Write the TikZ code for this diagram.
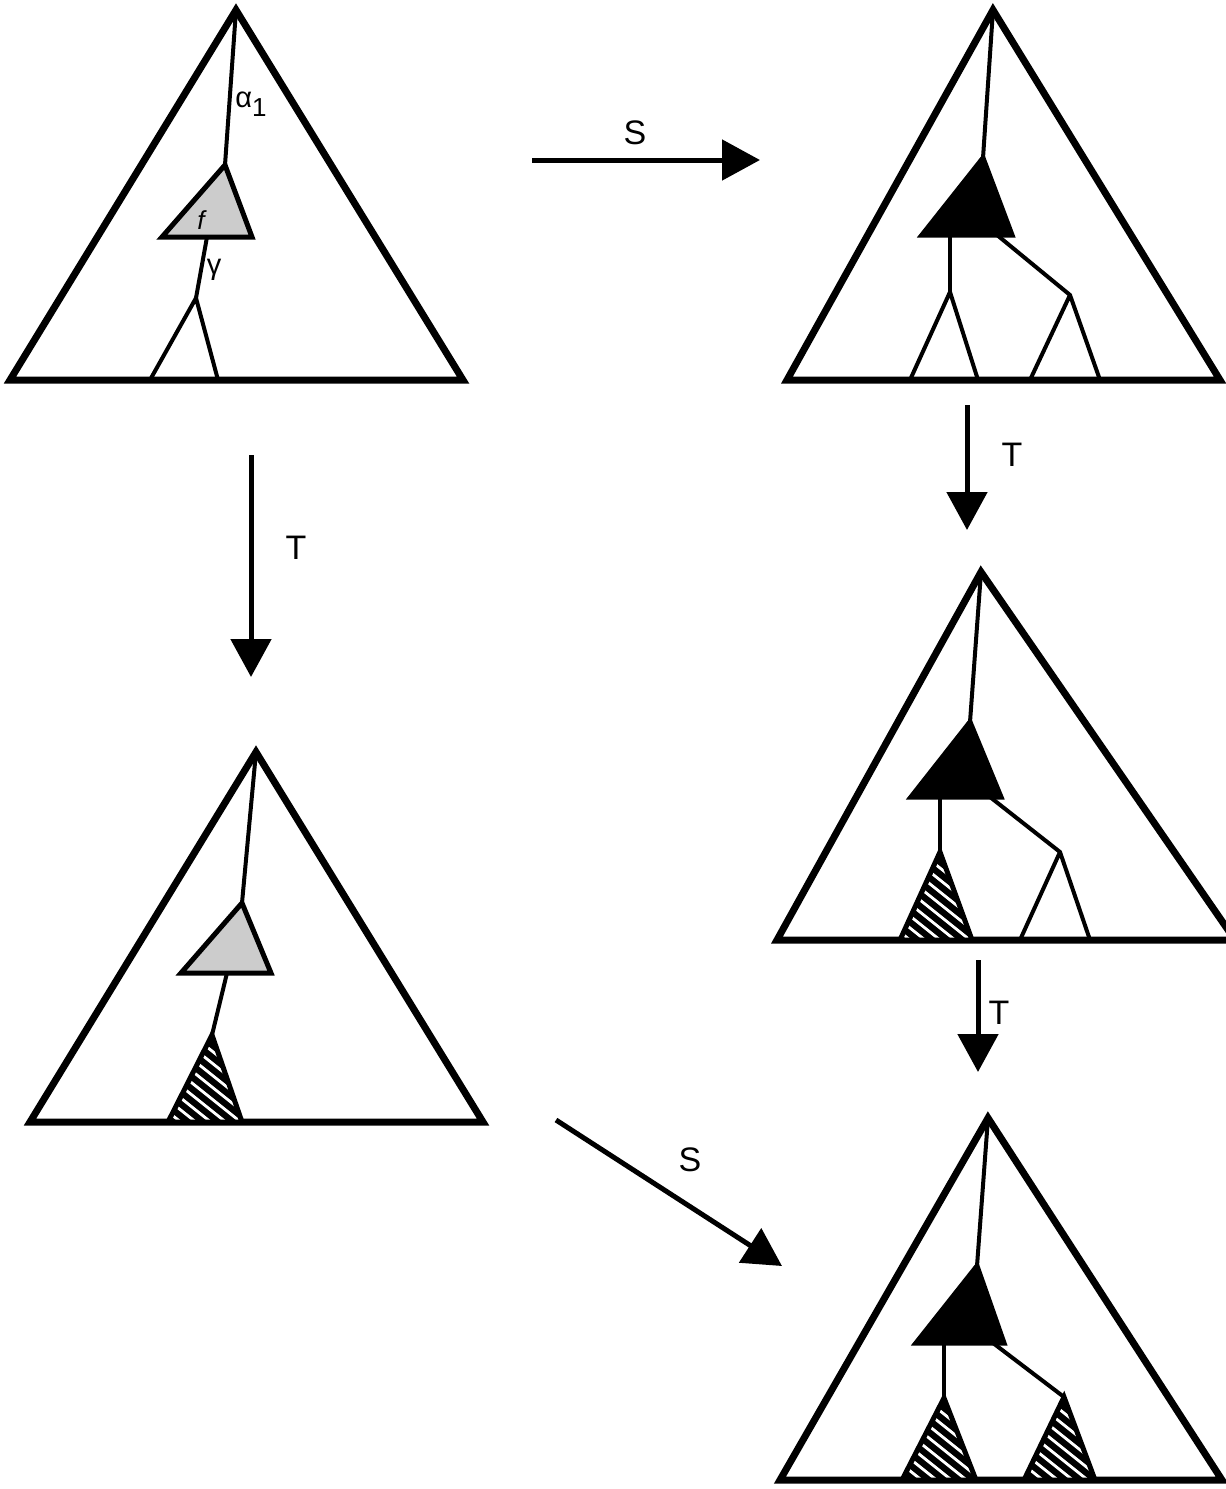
\documentclass[tikz,border=0pt]{standalone}
\usepackage{fontspec}
\setmainfont{Liberation Sans}
\usetikzlibrary{arrows.meta,calc}
\tikzset{
  outer/.style={line width=7pt, line join=miter},
  branch/.style={line width=4pt, line cap=round, line join=round},
  small/.style={line width=5pt, line join=miter},
  arr/.style={line width=5pt, -{Triangle[length=38pt,width=40pt]}},
  lbl/.style={font=\fontsize{34}{34}\selectfont, inner sep=0pt},
  glbl/.style={font=\fontsize{29}{29}\selectfont, inner sep=0pt}
}
\newcommand{\hatchtri}[3]{%
  \begin{scope}
    \clip #1 -- #2 -- #3 -- cycle;
    \fill[black] #1 -- #2 -- #3 -- cycle;
    \foreach \k in {-10,...,10}
      \draw[white,line width=2.8pt] ($#1+(\k*15,40)$) -- ++(-200,-160) ($#1+(\k*15,40)$) -- ++(200,160);
  \end{scope}
  \draw[small, fill=none] #1 -- #2 -- #3 -- cycle;
}
\begin{document}
\begin{tikzpicture}[x=1pt,y=-1pt]
\useasboundingbox (0,0) rectangle (1226,1489);
\fill[white] (0,0) rectangle (1226,1489);

% ---------- Triangle 1 (top left)
\draw[outer] (236,10) -- (10,380) -- (463,380) -- cycle;
\draw[branch] (236,10) -- (225,165);
\fill[gray!40] (225,165) -- (162,237) -- (252,237) -- cycle;
\draw[small] (225,165) -- (162,237) -- (252,237) -- cycle;
\draw[branch] (207,237) -- (196,298);
\draw[branch] (150,380) -- (196,298) -- (218,380);
\node[glbl] (a1) at (251,104) {α\raisebox{-9pt}{\fontsize{26}{26}\selectfont 1}};
\node[glbl] (g1) at (214,270) {γ};
\node[font=\fontsize{26}{26}\selectfont\itshape, inner sep=0pt] (f1) at (201,220) {f};

% ---------- Triangle 2 (top right)
\draw[outer] (993,10) -- (787,380) -- (1220,380) -- cycle;
\draw[branch] (993,10) -- (983,158);
\fill[black] (983,158) -- (922,235) -- (1012,235) -- cycle;
\draw[small] (983,158) -- (922,235) -- (1012,235) -- cycle;
\draw[branch] (950,235) -- (950,292);
\draw[branch] (910,380) -- (950,292) -- (978,380);
\draw[branch] (997,235) -- (1070,295);
\draw[branch] (1030,380) -- (1070,295) -- (1100,380);

% ---------- Triangle 3 (right middle)
\draw[outer] (981,572) -- (777,940) -- (1235,940) -- cycle;
\draw[branch] (981,572) -- (970,722);
\fill[black] (970,722) -- (911,797) -- (1001,797) -- cycle;
\draw[small] (970,722) -- (911,797) -- (1001,797) -- cycle;
\draw[branch] (940,797) -- (940,852);
\hatchtri{(940,852)}{(900,940)}{(972,940)}
\draw[branch] (990,797) -- (1060,852);
\draw[branch] (1020,940) -- (1060,852) -- (1090,940);

% ---------- Triangle 4 (bottom right)
\draw[outer] (988,1118) -- (780,1480) -- (1222,1480) -- cycle;
\draw[branch] (988,1118) -- (977,1266);
\fill[black] (977,1266) -- (916,1343) -- (1004,1343) -- cycle;
\draw[small] (977,1266) -- (916,1343) -- (1004,1343) -- cycle;
\draw[branch] (944,1343) -- (944,1398);
\hatchtri{(944,1398)}{(902,1480)}{(976,1480)}
\draw[branch] (993,1343) -- (1064,1397);
\hatchtri{(1064,1397)}{(1024,1480)}{(1095,1480)}

% ---------- Triangle 5 (bottom left)
\draw[outer] (256,752) -- (30,1122) -- (483,1122) -- cycle;
\draw[branch] (256,752) -- (242,903);
\fill[gray!40] (242,903) -- (181,973) -- (271,973) -- cycle;
\draw[small] (242,903) -- (181,973) -- (271,973) -- cycle;
\draw[branch] (227,973) -- (212,1035);
\hatchtri{(212,1035)}{(168,1122)}{(242,1122)}

% ---------- Arrows
\coordinate (s1a) at (532,160);
\coordinate (s1b) at (760,160);
\draw[arr] (s1a) -- (s1b);
\node[lbl] (s1) at (635,133) {S};

\coordinate (t1a) at (967,405);
\coordinate (t1b) at (967,530);
\draw[arr] (t1a) -- (t1b);
\node[lbl] (t1) at (1012,455) {T};

\coordinate (t2a) at (978,960);
\coordinate (t2b) at (978,1072);
\draw[arr] (t2a) -- (t2b);
\node[lbl] (t2) at (999,1013) {T};

\coordinate (t3a) at (251,455);
\coordinate (t3b) at (251,677);
\draw[arr] (t3a) -- (t3b);
\node[lbl] (t3) at (296,548) {T};

\coordinate (s2a) at (556,1120);
\coordinate (s2b) at (782,1266);
\draw[arr] (s2a) -- (s2b);
\node[lbl] (s2) at (690,1160) {S};
\end{tikzpicture}
\end{document}
